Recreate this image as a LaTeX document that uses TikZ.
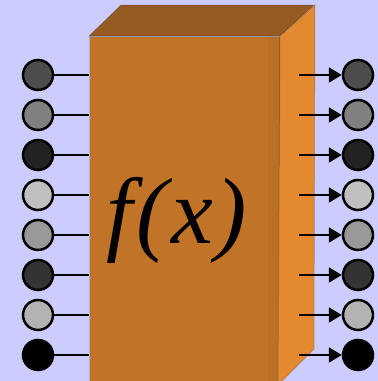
\documentclass[tikz,border=0pt]{standalone}
\usepackage{fontspec}
\newfontfamily\fxfont{Liberation Serif}
\usetikzlibrary{arrows.meta}
\definecolor{bgc}{HTML}{CCCCFF}
\definecolor{frontc}{HTML}{C17428}
\definecolor{topc}{HTML}{955B22}
\definecolor{sidec}{HTML}{E3892F}
\definecolor{stripc}{HTML}{BB7028}
\definecolor{g1}{HTML}{4D4D4D}
\definecolor{g2}{HTML}{808080}
\definecolor{g3}{HTML}{222222}
\definecolor{g4}{HTML}{C0C0C0}
\definecolor{g5}{HTML}{999999}
\definecolor{g6}{HTML}{333333}
\definecolor{g7}{HTML}{B3B3B3}
\definecolor{g8}{HTML}{000000}
\begin{document}
\begin{tikzpicture}[x=1pt,y=-1pt,
  dot/.style={circle,draw=black,line width=2.5pt,minimum size=30pt,inner sep=0pt},
  wire/.style={line width=2.5pt,draw=black},
  arrowwire/.style={wire,-{Triangle[length=13pt,width=15pt]}},
  face/.style={draw=black,draw opacity=0.15,line width=1pt}]
\useasboundingbox (0,0) rectangle (378,381);
\fill[bgc] (0,0) rectangle (378,381);
% box
\node[face,fill=frontc,minimum width=190pt,minimum height=348pt,inner sep=0pt,anchor=north west] (box) at (89,36) {};
\fill[stripc] (268,37) rectangle (278.5,385);
\filldraw[face,fill=topc] (box.north west) -- ++(32,-31) -- ++(193,0) -- (box.north east) -- cycle;
\filldraw[face,fill=sidec] (box.north east) -- ++(35,-31) -- (314,349) -- (278,385) -- cycle;
\node[anchor=base,inner sep=0pt] (fx) at (177,243) {\fxfont\itshape\fontsize{94}{94}\selectfont f\kern4pt(\kern3pt x\kern3pt)};
\coordinate (as) at (299,0);
% circles
\foreach \i/\c in {1/g1,2/g2,3/g3,4/g4,5/g5,6/g6,7/g7,8/g8}{
  \node[dot,fill=\c] (l\i) at (38,{35+40*\i}) {};
  \node[dot,fill=\c] (r\i) at (358,{35+40*\i}) {};
  \draw[wire] (l\i) -- (l\i -| box.west);
  \draw[arrowwire] (r\i -| as) -- (r\i);
}
\end{tikzpicture}
\end{document}
